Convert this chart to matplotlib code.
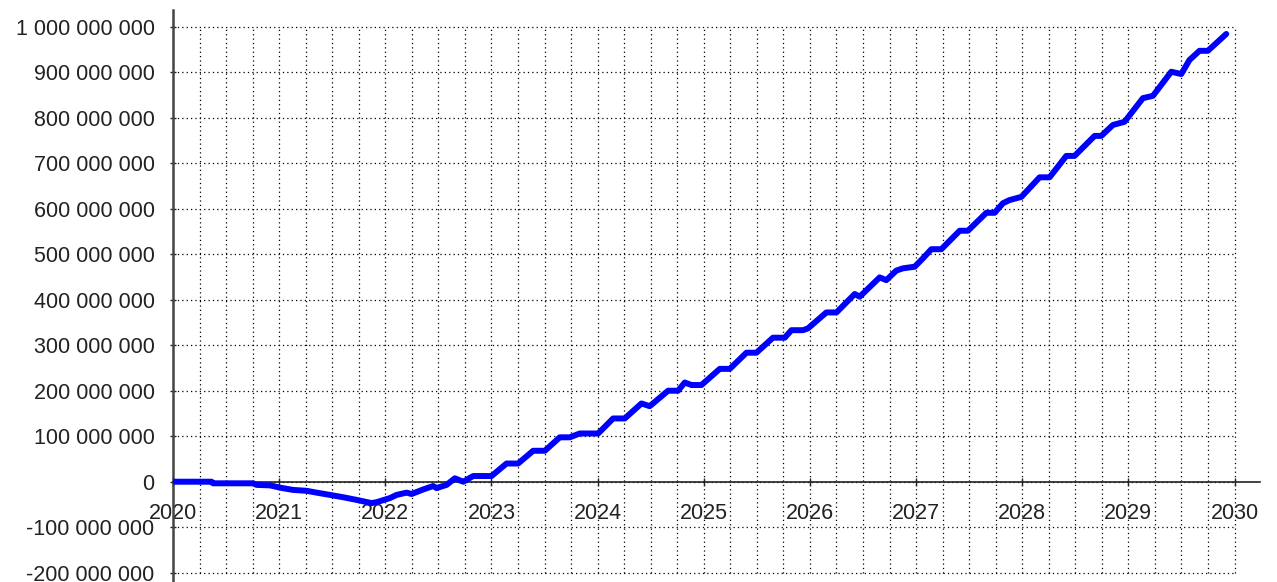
import matplotlib
matplotlib.use("Agg")
import matplotlib.pyplot as plt
import numpy as np
from matplotlib.ticker import FuncFormatter

# Data
years = [2020.00, 2020.364, 2020.377, 2020.753, 2020.788, 2020.913, 2021.008, 2021.130,
         2021.259, 2021.353, 2021.478, 2021.601, 2021.730, 2021.871, 2021.918, 2022.043,
         2022.106, 2022.201, 2022.248, 2022.357, 2022.451, 2022.483, 2022.577, 2022.655,
         2022.734, 2022.828, 2023.001, 2023.142, 2023.251, 2023.393, 2023.503, 2023.644,
         2023.738, 2023.832, 2024.005, 2024.146, 2024.256, 2024.413, 2024.491, 2024.664,
         2024.758, 2024.821, 2024.884, 2024.978, 2025.151, 2025.245, 2025.402, 2025.496,
         2025.652, 2025.763, 2025.826, 2025.935, 2025.982, 2026.155, 2026.250, 2026.422,
         2026.469, 2026.657, 2026.720, 2026.814, 2026.877, 2026.987, 2027.065, 2027.144,
         2027.238, 2027.411, 2027.489, 2027.662, 2027.740, 2027.818, 2027.881, 2027.992,
         2028.164, 2028.258, 2028.415, 2028.493, 2028.682, 2028.745, 2028.854, 2028.964,
         2029.137, 2029.231, 2029.404, 2029.498, 2029.576, 2029.670, 2029.749, 2029.922]
values_m = [0, 0, -3.5, -3.5, -7, -8, -13, -18,
            -20, -24, -29, -34, -40, -47, -45, -36,
            -29, -24, -27, -17, -9.5, -14, -7, 7.5,
            0, 12.5, 12.5, 40, 40, 68, 68, 97.6,
            97.6, 106, 106, 139, 139, 172, 166, 200,
            200, 218, 212.5, 212.5, 248, 248, 283.5, 283.5,
            316.5, 316.5, 333, 333, 337, 372, 372, 412.5,
            406.6, 449, 443, 464, 469, 472.5, 491, 511,
            511, 551.6, 551.6, 591, 591, 612, 619, 626,
            669, 669, 716, 716, 760, 760, 784, 791,
            843, 848, 901, 896, 927, 947, 947, 984]
year_ticks = list(range(2020, 2031))
value_ticks = [-200e6, -100e6, 0, 100e6, 200e6, 300e6, 400e6, 500e6,
               600e6, 700e6, 800e6, 900e6, 1000e6]

values = np.array(values_m) * 1e6

plt.rcParams['font.family'] = ['Liberation Sans', 'DejaVu Sans']
fig = plt.figure(figsize=(12.77, 5.82), dpi=100)
ax = fig.add_axes([173/1277, 0.0, (1260-173)/1277, 1 - 10/582])

ax.set_xlim(2020, 2030.24)
ax.set_ylim(-220.4e6, 1036.7e6)

# grid (dotted), limited to the tick range like the reference
quarters = np.arange(2020.25, 2030.001, 0.25)
ax.vlines(quarters, value_ticks[0], value_ticks[-1], colors='black',
          linewidth=0.9, linestyles=(0, (1, 2.5)), zorder=1)
ax.hlines(value_ticks, year_ticks[0], year_ticks[-1], colors='black',
          linewidth=0.9, linestyles=(0, (1, 2.5)), zorder=1)

ax.plot(years, values, color='#0000FF', linewidth=4.3, solid_capstyle='round',
        solid_joinstyle='round', zorder=4)

for s in ['top', 'right']:
    ax.spines[s].set_visible(False)
ax.spines['bottom'].set_position(('data', 0))
ax.spines['left'].set_position(('data', 2020))
ax.spines['bottom'].set_color('#222222')
ax.spines['bottom'].set_linewidth(1.2)
ax.spines['left'].set_color('#444444')
ax.spines['left'].set_linewidth(1.8)
ax.spines['bottom'].set_zorder(3)
ax.spines['left'].set_zorder(3)

ax.set_xticks(year_ticks)
ax.set_xticklabels([str(y) for y in year_ticks])
ax.set_yticks(value_ticks)
ax.yaxis.set_major_formatter(FuncFormatter(lambda v, p: f"{v:,.0f}".replace(',', ' ')))

ax.tick_params(axis='x', direction='inout', length=5.5, width=1.0, color='#222222',
               pad=12.5, labelsize=15.5, labelcolor='#222222')
ax.tick_params(axis='y', direction='inout', length=4.5, width=1.0, color='#222222',
               pad=11.0, labelsize=15.5, labelcolor='#222222')

fig.savefig('out.png', dpi=100)
